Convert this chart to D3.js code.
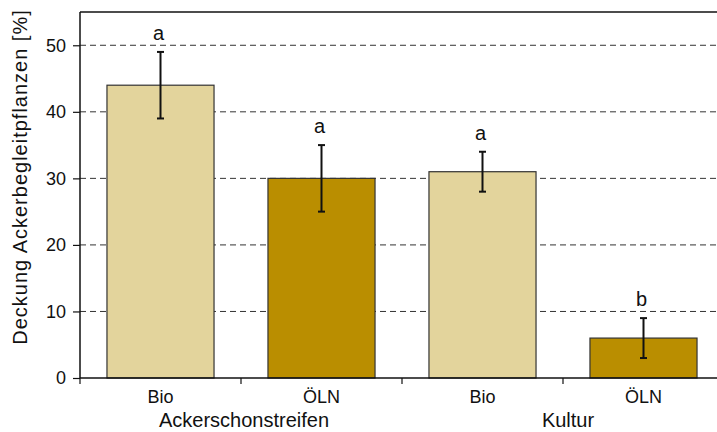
<!DOCTYPE html>
<html><head><meta charset="utf-8">
<script src="https://cdn.jsdelivr.net/npm/d3@7"></script>
<style>body{margin:0;background:#fff;} text{font-family:"Liberation Sans",Arial,sans-serif;fill:#111;}</style>
</head><body><svg id="c" width="717" height="432"></svg>
<script>
const categories = ["Bio", "ÖLN", "Bio", "ÖLN"];
const groups = ["Ackerschonstreifen", "Kultur"];
const values = [44, 30, 31, 6];
const errors = [5, 5, 3, 3];
const letters = ["a", "a", "a", "b"];
const yTicks = [0, 10, 20, 30, 40, 50];
const colors = ["#E3D49C", "#BA8E00", "#E3D49C", "#BA8E00"];

const svg = d3.select("#c");
const m = {left: 80, top: 12, right: -7, bottom: 54};
const W = 717 - m.left - m.right, H = 432 - m.top - m.bottom;
const g = svg.append("g").attr("transform", `translate(${m.left},${m.top})`);
const x = d3.scaleBand().domain(d3.range(categories.length)).range([0, W]).paddingInner(0.335).paddingOuter(0.1675);
const y = d3.scaleLinear().domain([0, 55]).range([H, 0]);

// grid
g.selectAll(".grid").data(yTicks.filter(d => d > 0)).join("line")
  .attr("x1", 0).attr("x2", W).attr("y1", d => y(d)).attr("y2", d => y(d))
  .attr("stroke", "#333").attr("stroke-width", 1).attr("stroke-dasharray", "6,4");
// top frame
g.append("line").attr("x1", 0).attr("x2", W).attr("y1", 0).attr("y2", 0).attr("stroke", "#111").attr("stroke-width", 1.5);

// bars
g.selectAll(".bar").data(values).join("rect")
  .attr("x", (d, i) => x(i)).attr("width", x.bandwidth())
  .attr("y", d => y(d)).attr("height", d => H - y(d))
  .attr("fill", (d, i) => colors[i]).attr("stroke", "#333").attr("stroke-width", 1.2);

// error bars
values.forEach((v, i) => {
  const cx = x(i) + x.bandwidth() / 2;
  const e = g.append("g").attr("stroke", "#111").attr("stroke-width", 2);
  e.append("line").attr("x1", cx).attr("x2", cx).attr("y1", y(v + errors[i])).attr("y2", y(v - errors[i]));
  e.append("line").attr("x1", cx - 3.5).attr("x2", cx + 3.5).attr("y1", y(v + errors[i])).attr("y2", y(v + errors[i]));
  e.append("line").attr("x1", cx - 3.5).attr("x2", cx + 3.5).attr("y1", y(v - errors[i])).attr("y2", y(v - errors[i]));
  g.append("text").attr("x", cx - 2).attr("y", y(v + errors[i]) - 12).attr("text-anchor", "middle")
    .attr("font-size", 20).text(letters[i]);
});

// y axis
const ya = g.append("g").call(d3.axisLeft(y).tickValues(yTicks).tickSize(7).tickPadding(7));
ya.select(".domain").attr("stroke", "#111").attr("stroke-width", 1.5).attr("d", `M0,${H}V0`);
ya.selectAll(".tick line").attr("stroke", "#111").attr("stroke-width", 1.2);
ya.selectAll("text").attr("font-size", 18).attr("font-family", "Liberation Sans, Arial, sans-serif").attr("fill", "#111");

// x axis
const xa = g.append("g").attr("transform", `translate(0,${H})`);
xa.append("line").attr("x1", 0).attr("x2", W).attr("stroke", "#111").attr("stroke-width", 1.5);
d3.range(categories.length + 1).forEach(i => {
  const tx = i * W / categories.length;
  xa.append("line").attr("x1", tx).attr("x2", tx).attr("y1", 0).attr("y2", 6).attr("stroke", "#111").attr("stroke-width", 1.2);
});
categories.forEach((c, i) => {
  xa.append("text").attr("x", x(i) + x.bandwidth() / 2).attr("y", 25).attr("text-anchor", "middle").attr("font-size", 18).text(c);
});
groups.forEach((gname, j) => {
  xa.append("text").attr("x", (2 * j + 1) * W / categories.length + (j === 0 ? 3 : 5)).attr("y", 49).attr("text-anchor", "middle").attr("font-size", 20).text(gname);
});

// y label
svg.append("text").attr("transform", `translate(27,177) rotate(-90)`).attr("text-anchor", "middle")
  .attr("font-size", 20).attr("letter-spacing", 1).text("Deckung Ackerbegleitpflanzen [%]");
</script></body></html>
